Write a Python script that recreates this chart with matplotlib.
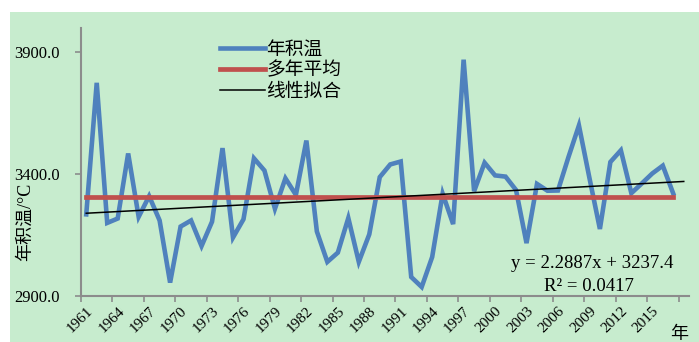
import numpy as np
import matplotlib
matplotlib.use("Agg")
import matplotlib.pyplot as plt
from matplotlib.patches import Rectangle
from matplotlib.ticker import FixedLocator, FixedFormatter, NullFormatter

# Annual accumulated temperature (°C), 1961-2017
years = list(range(1961, 2018))
temps = np.array([
    3235, 3775, 3200, 3218, 3485, 3225, 3310, 3210, 2955, 3185,
    3210, 3105, 3205, 3507, 3140, 3215, 3465, 3415, 3258, 3383,
    3315, 3538, 3165, 3040, 3078, 3220, 3040, 3153, 3388, 3440,
    3452, 2978, 2937, 3060, 3320, 3195, 3870, 3330, 3447, 3395,
    3390, 3335, 3117, 3360, 3332, 3333, 3470, 3600, 3385, 3175,
    3450, 3498, 3322, 3362, 3403, 3435, 3320,
])
# linear trend, x = 1 for 1961
slope = 2.2887
intercept = 3237.4
r_squared = 0.0417

y_ticks = [2900.0, 3400.0, 3900.0]
label_step = 3

blue = "#4F81BD"
red = "#C0504D"
green_bg = "#C7ECCE"

serif = ["Liberation Serif", "Noto Sans CJK SC"]
cjk = ["Noto Sans CJK SC", "Liberation Serif"]

fig = plt.figure(figsize=(6.99, 3.42), dpi=100)
fig.patch.set_facecolor("white")
fig.patches.append(Rectangle((10 / 699, 0), 1, (342 - 12) / 342,
                             transform=fig.transFigure, facecolor=green_bg,
                             edgecolor="none", zorder=-10))

ax = fig.add_axes([81 / 699, 1 - 296 / 342, (689 - 81) / 699, (296 - 28) / 342])
ax.set_facecolor("none")
ax.set_zorder(1)

idx = np.arange(len(years))
n_cat = len(years) + 1  # axis carries one extra (empty) category

ax.plot(idx, temps, color=blue, lw=3.3, solid_joinstyle="miter", zorder=3,
        label="年积温")
mean_val = temps.mean()
ax.plot([idx[0], idx[-1]], [mean_val, mean_val], color=red, lw=3.4, zorder=4,
        label="多年平均")
trend_x = np.arange(1, n_cat + 1)
ax.plot(trend_x - 1, slope * trend_x + intercept, color="black", lw=1.1,
        zorder=5, label="线性拟合")

ax.set_xlim(-0.5, n_cat - 0.5)
ax.set_ylim(2900, 4000)

# y axis
ax.yaxis.set_major_locator(FixedLocator(y_ticks))
ax.set_yticklabels([f"{v:.1f}" for v in y_ticks])
ax.tick_params(axis="y", which="major", direction="out", length=4, width=1.2,
               color="#8c8c8c", pad=11, labelsize=12)

# x axis: ticks at category boundaries, labels at category centres
boundaries = np.arange(-0.5, n_cat - 0.5 + 0.01, label_step)
ax.xaxis.set_major_locator(FixedLocator(boundaries))
ax.xaxis.set_major_formatter(NullFormatter())
label_pos = np.arange(0, len(years), label_step)
ax.xaxis.set_minor_locator(FixedLocator(label_pos))
ax.xaxis.set_minor_formatter(FixedFormatter([str(years[i]) for i in label_pos]))
ax.tick_params(axis="x", which="major", direction="out", length=4, width=1.2,
               color="#8c8c8c")
ax.tick_params(axis="x", which="minor", length=0, pad=6, labelsize=11)
for lab in ax.get_xticklabels(minor=True):
    lab.set_rotation(45)
    lab.set_ha("right")
    lab.set_va("top")
    lab.set_rotation_mode("anchor")
    lab.set_family(serif)
for lab in ax.get_yticklabels():
    lab.set_family(serif)

for side in ("top", "right"):
    ax.spines[side].set_visible(False)
for side in ("left", "bottom"):
    ax.spines[side].set_color("#8c8c8c")
    ax.spines[side].set_linewidth(1.5)

leg = ax.legend(loc="upper left", bbox_to_anchor=(0.228, 0.96), frameon=False,
                prop={"family": cjk, "size": 13.5}, handlelength=2.4,
                handletextpad=0.1, labelspacing=0.0, borderpad=0,
                borderaxespad=0)

ax.text(0.84, 0.12, f"y = {slope:.4f}x + {intercept:.1f}", transform=ax.transAxes,
        ha="center", va="center", fontsize=13.5, family=serif)
ax.text(0.835, 0.035, f"R² = {r_squared:.4f}", transform=ax.transAxes,
        ha="center", va="center", fontsize=13.5, family=serif)

fig.text(25 / 699, 1 - 222 / 342, "年积温/°C", rotation=90, ha="center",
         va="center", fontsize=13, family=serif)
fig.text(679 / 699, 1 - 334 / 342, "年", ha="center", va="center",
         fontsize=13, family=cjk)

fig.savefig("out.png", dpi=100)
